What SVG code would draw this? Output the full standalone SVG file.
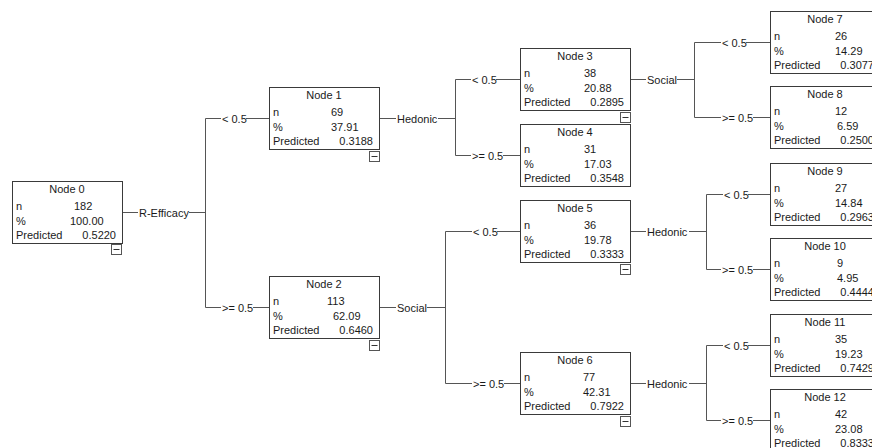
<svg xmlns="http://www.w3.org/2000/svg" width="872" height="448" viewBox="0 0 872 448">
<defs>
<style>
text{font-family:"Liberation Sans",Arial,sans-serif;font-size:11px;fill:#1a1a1a}
.box{fill:#fff;stroke:#3a3a3a;stroke-width:1}
.mbox{fill:#fff;stroke:#555;stroke-width:1}
.mline{stroke:#333;stroke-width:1}
.hd{text-anchor:middle}
.rv{text-anchor:end}
#connectors path{fill:none;stroke:#555;stroke-width:1}
</style>
<g id="minus"><rect class="mbox" x="0.5" y="0.5" width="10" height="10"/><path class="mline" d="M2.5 5.5H8.5"/></g>
</defs>
<rect width="872" height="448" fill="#fff"/>
<g id="connectors">
<path d="M122 212.5H138M189 212.5H205.5M205.5 118.5V307.5"/>
<path d="M205.5 118.5H221M246 118.5H269M205.5 307.5H221M253 307.5H269"/>
<path d="M380 118.5H396M438 118.5H455.5M455.5 79.5V155.5"/>
<path d="M455.5 79.5H471M496 79.5H520M455.5 155.5H471M503 155.5H520"/>
<path d="M380 307.5H396M427 307.5H445.5M445.5 231.5V383.5"/>
<path d="M445.5 231.5H472M497 231.5H520M445.5 383.5H472M504 383.5H520"/>
<path d="M631 79.5H646M677 79.5H694.5M694.5 42.5V117.5"/>
<path d="M694.5 42.5H721M746 42.5H770M694.5 117.5H721M753 117.5H770"/>
<path d="M631 231.5H646M689 231.5H706.5M706.5 194.5V269.5"/>
<path d="M706.5 194.5H723M748 194.5H770M706.5 269.5H721M753 269.5H770"/>
<path d="M631 383.5H646M689 383.5H706.5M706.5 345.5V420.5"/>
<path d="M706.5 345.5H723M748 345.5H770M706.5 420.5H721M753 420.5H770"/>
<text x="139" y="216.5">R-Efficacy</text>
<text x="222" y="122.5">&lt; 0.5</text>
<text x="222" y="311.5">&gt;= 0.5</text>
<text x="397" y="122.5">Hedonic</text>
<text x="397" y="311.5">Social</text>
<text x="472" y="83.5">&lt; 0.5</text>
<text x="472" y="159.5">&gt;= 0.5</text>
<text x="473" y="235.5">&lt; 0.5</text>
<text x="473" y="387.5">&gt;= 0.5</text>
<text x="647" y="83.5">Social</text>
<text x="647" y="235.5">Hedonic</text>
<text x="647" y="387.5">Hedonic</text>
<text x="722" y="46.5">&lt; 0.5</text>
<text x="722" y="121.5">&gt;= 0.5</text>
<text x="724" y="198.5">&lt; 0.5</text>
<text x="722" y="273.5">&gt;= 0.5</text>
<text x="724" y="349.5">&lt; 0.5</text>
<text x="722" y="424.5">&gt;= 0.5</text>
</g>
<g id="node0"><rect class="box" x="12.5" y="181.5" width="110" height="62"/>
<text class="hd" x="67" y="193">Node 0</text><text x="16" y="210">n</text><text x="16" y="225">%</text><text x="16" y="239">Predicted</text>
<text x="74" y="210">182</text><text x="70" y="225">100.00</text><text class="rv" x="116" y="239">0.5220</text>
<use href="#minus" x="111" y="244"/></g>
<g id="node1"><rect class="box" x="269.5" y="87.5" width="110" height="62"/>
<text class="hd" x="324" y="99">Node 1</text><text x="273" y="116">n</text><text x="273" y="131">%</text><text x="273" y="145">Predicted</text>
<text x="331" y="116">69</text><text x="331" y="131">37.91</text><text class="rv" x="373" y="145">0.3188</text>
<use href="#minus" x="369" y="151"/></g>
<g id="node2"><rect class="box" x="269.5" y="276.5" width="110" height="62"/>
<text class="hd" x="324" y="288">Node 2</text><text x="273" y="305">n</text><text x="273" y="320">%</text><text x="273" y="334">Predicted</text>
<text x="327" y="305">113</text><text x="333" y="320">62.09</text><text class="rv" x="373" y="334">0.6460</text>
<use href="#minus" x="369" y="340"/></g>
<g id="node3"><rect class="box" x="520.5" y="48.5" width="110" height="62"/>
<text class="hd" x="575" y="60">Node 3</text><text x="524" y="77">n</text><text x="524" y="92">%</text><text x="524" y="106">Predicted</text>
<text x="584" y="77">38</text><text x="584" y="92">20.88</text><text class="rv" x="624" y="106">0.2895</text>
<use href="#minus" x="620" y="112"/></g>
<g id="node4"><rect class="box" x="520.5" y="124.5" width="110" height="62"/>
<text class="hd" x="575" y="136">Node 4</text><text x="524" y="153">n</text><text x="524" y="168">%</text><text x="524" y="182">Predicted</text>
<text x="584" y="153">31</text><text x="584" y="168">17.03</text><text class="rv" x="624" y="182">0.3548</text></g>
<g id="node5"><rect class="box" x="520.5" y="200.5" width="110" height="62"/>
<text class="hd" x="575" y="212">Node 5</text><text x="524" y="229">n</text><text x="524" y="244">%</text><text x="524" y="258">Predicted</text>
<text x="584" y="229">36</text><text x="584" y="244">19.78</text><text class="rv" x="624" y="258">0.3333</text>
<use href="#minus" x="620" y="264"/></g>
<g id="node6"><rect class="box" x="520.5" y="352.5" width="110" height="62"/>
<text class="hd" x="575" y="364">Node 6</text><text x="524" y="381">n</text><text x="524" y="396">%</text><text x="524" y="410">Predicted</text>
<text x="583" y="381">77</text><text x="583" y="396">42.31</text><text class="rv" x="624" y="410">0.7922</text>
<use href="#minus" x="620" y="416"/></g>
<g id="node7"><rect class="box" x="770.5" y="11.5" width="110" height="62"/>
<text class="hd" x="825" y="23">Node 7</text><text x="774" y="40">n</text><text x="774" y="55">%</text><text x="774" y="69">Predicted</text>
<text x="835" y="40">26</text><text x="835" y="55">14.29</text><text class="rv" x="874" y="69">0.3077</text></g>
<g id="node8"><rect class="box" x="770.5" y="86.5" width="110" height="62"/>
<text class="hd" x="825" y="98">Node 8</text><text x="774" y="115">n</text><text x="774" y="130">%</text><text x="774" y="144">Predicted</text>
<text x="835" y="115">12</text><text x="837" y="130">6.59</text><text class="rv" x="874" y="144">0.2500</text></g>
<g id="node9"><rect class="box" x="770.5" y="163.5" width="110" height="62"/>
<text class="hd" x="825" y="175">Node 9</text><text x="774" y="192">n</text><text x="774" y="207">%</text><text x="774" y="221">Predicted</text>
<text x="835" y="192">27</text><text x="835" y="207">14.84</text><text class="rv" x="874" y="221">0.2963</text></g>
<g id="node10"><rect class="box" x="770.5" y="238.5" width="110" height="62"/>
<text class="hd" x="825" y="250">Node 10</text><text x="774" y="267">n</text><text x="774" y="282">%</text><text x="774" y="296">Predicted</text>
<text x="837" y="267">9</text><text x="837" y="282">4.95</text><text class="rv" x="874" y="296">0.4444</text></g>
<g id="node11"><rect class="box" x="770.5" y="314.5" width="110" height="62"/>
<text class="hd" x="825" y="326">Node 11</text><text x="774" y="343">n</text><text x="774" y="358">%</text><text x="774" y="372">Predicted</text>
<text x="835" y="343">35</text><text x="835" y="358">19.23</text><text class="rv" x="874" y="372">0.7429</text></g>
<g id="node12"><rect class="box" x="770.5" y="389.5" width="110" height="62"/>
<text class="hd" x="825" y="401">Node 12</text><text x="774" y="418">n</text><text x="774" y="433">%</text><text x="774" y="447">Predicted</text>
<text x="835" y="418">42</text><text x="835" y="433">23.08</text><text class="rv" x="874" y="447">0.8333</text></g>
</svg>
